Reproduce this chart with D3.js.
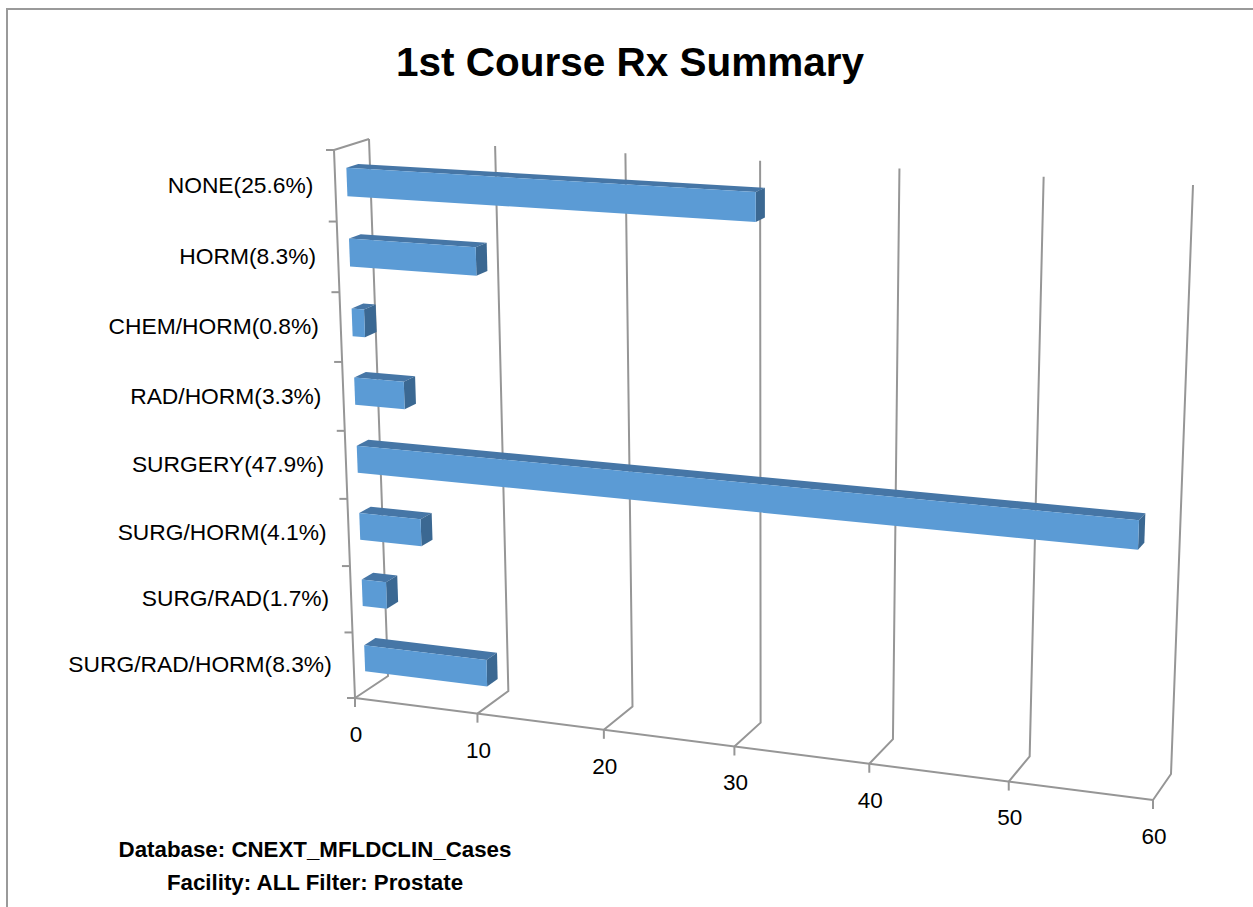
<!DOCTYPE html>
<html>
<head>
<meta charset="utf-8">
<script src="https://cdn.jsdelivr.net/npm/d3@7"></script>
<style>
  html, body { margin: 0; padding: 0; background: #fff; }
  svg { display: block; }
</style>
</head>
<body>
<svg id="chart" width="1253" height="907"></svg>
<script>
// ---- data ----
const categories = ["NONE(25.6%)", "HORM(8.3%)", "CHEM/HORM(0.8%)", "RAD/HORM(3.3%)",
                    "SURGERY(47.9%)", "SURG/HORM(4.1%)", "SURG/RAD(1.7%)", "SURG/RAD/HORM(8.3%)"];
const values = [31, 10, 1, 4, 58, 5, 2, 10];
const xTicks = [0, 10, 20, 30, 40, 50, 60];
const titleText = "1st Course Rx Summary";
const footerLines = ["Database: CNEXT_MFLDCLIN_Cases", "Facility: ALL Filter: Prostate"];

// ---- perspective frame (plot planes) ----
function makeH(p0, p1, p2, p3) {
  const [x0, y0] = p0, [x1, y1] = p1, [x2, y2] = p2, [x3, y3] = p3;
  const dx1 = x1 - x2, dx2 = x3 - x2, dx3 = x0 - x1 + x2 - x3;
  const dy1 = y1 - y2, dy2 = y3 - y2, dy3 = y0 - y1 + y2 - y3;
  const den = dx1 * dy2 - dx2 * dy1;
  const g = (dx3 * dy2 - dx2 * dy3) / den, h = (dx1 * dy3 - dx3 * dy1) / den;
  const a = x1 - x0 + g * x1, b = x3 - x0 + h * x3, c = x0;
  const d = y1 - y0 + g * y1, e = y3 - y0 + h * y3, f = y0;
  return (u, v) => { const w = g * u + h * v + 1; return [(a * u + b * v + c) / w, (d * u + e * v + f) / w]; };
}
const Hfront = makeH([334, 150], [1175, 198], [1153, 800], [355, 698]);
const Hback  = makeH([369, 139], [1193, 185], [1171, 774], [388, 676]);
function P(u, v, z) {
  const a = Hfront(u, v), b = Hback(u, v);
  return [a[0] + (b[0] - a[0]) * z, a[1] + (b[1] - a[1]) * z];
}

// ---- scales ----
const x = d3.scaleLinear().domain([0, 60]).range([0, 1]);
const y = d3.scaleBand().domain(categories).range([0, 1]).paddingInner(0.6).paddingOuter(0.3);
const yStep = d3.scaleBand().domain(categories).range([0, 1]);
const barZ = [0.33, 0.67];

const svg = d3.select("#chart");
const grid = "#969696";
const FONT = "Liberation Sans, Arial, sans-serif";

// chart border
svg.append("path").attr("d", "M7,907 L7,9 L1253,9")
  .attr("fill", "none").attr("stroke", "#9a9a9a").attr("stroke-width", 2);

// title
svg.append("text").attr("x", 630).attr("y", 76).attr("text-anchor", "middle")
  .attr("font-family", FONT).attr("font-weight", "bold")
  .attr("font-size", 40.5).attr("fill", "#000").text(titleText);

const line = d3.line();
const g = svg.append("g");

// left wall edges
g.append("path").attr("d", line([P(0, 1, 0), P(0, 0, 0), P(0, 0, 1)]))
  .attr("fill", "none").attr("stroke", grid).attr("stroke-width", 2);
// front floor edge
g.append("path").attr("d", line([P(0, 1, 0), P(1, 1, 0)]))
  .attr("fill", "none").attr("stroke", grid).attr("stroke-width", 2);
// gridlines: floor depth line + back wall vertical
xTicks.forEach(t => {
  const u = x(t);
  g.append("path").attr("d", line([P(u, 1, 0), P(u, 1, 1), P(u, 0, 1)]))
    .attr("fill", "none").attr("stroke", grid).attr("stroke-width", 2);
  const f = P(u, 1, 0);
  g.append("line").attr("x1", f[0]).attr("y1", f[1]).attr("x2", f[0]).attr("y2", f[1] + 9)
    .attr("stroke", grid).attr("stroke-width", 2);
  g.append("text").attr("x", f[0] + 1).attr("y", f[1] + 38).attr("text-anchor", "middle")
    .attr("dominant-baseline", "middle")
    .attr("font-family", FONT).attr("font-size", 22.5)
    .attr("fill", "#000").text(t);
});
// category ticks on front-left edge
const bounds = categories.map(c => yStep(c)).concat([1]);
bounds.forEach(v => {
  const p = P(0, v, 0);
  g.append("line").attr("x1", p[0] - 8).attr("y1", p[1]).attr("x2", p[0]).attr("y2", p[1])
    .attr("stroke", grid).attr("stroke-width", 2);
});
// category labels
categories.forEach(c => {
  const p = P(0, yStep(c) + yStep.bandwidth() / 2, 0);
  g.append("text").attr("x", p[0] - 22).attr("y", p[1] + 1).attr("text-anchor", "end")
    .attr("dominant-baseline", "middle")
    .attr("font-family", FONT).attr("font-size", 22.8)
    .attr("fill", "#000").text(c);
});

// bars
const bars = g.append("g");
categories.forEach((c, i) => {
  const u1 = x(values[i]);
  const v0 = y(c), v1 = y(c) + y.bandwidth();
  const [z0, z1] = barZ;
  const front = [P(0, v0, z0), P(u1, v0, z0), P(u1, v1, z0), P(0, v1, z0)];
  const top = [P(0, v0, z0), P(u1, v0, z0), P(u1, v0, z1), P(0, v0, z1)];
  const end = [P(u1, v0, z0), P(u1, v0, z1), P(u1, v1, z1), P(u1, v1, z0)];
  bars.append("path").attr("d", line(top) + "Z").attr("fill", "#4676a6");
  bars.append("path").attr("d", line(end) + "Z").attr("fill", "#3b6892");
  bars.append("path").attr("d", line(front) + "Z").attr("fill", "#5b9bd5");
});

// footer
footerLines.forEach((t, i) => {
  svg.append("text").attr("x", 315).attr("y", 857 + i * 33).attr("text-anchor", "middle")
    .attr("font-family", FONT).attr("font-weight", "bold")
    .attr("font-size", 22.3).attr("fill", "#000").text(t);
});
</script>
</body>
</html>
